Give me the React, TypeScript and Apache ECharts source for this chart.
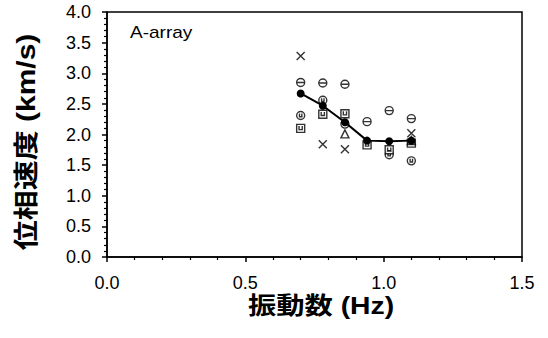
import React, { useEffect, useRef } from "react";
import * as echarts from "echarts";

const freqs = [0.7, 0.78, 0.86, 0.94, 1.02, 1.1];
const meanVel = [2.67, 2.47, 2.2, 1.9, 1.89, 1.9];
const circleTheta = [2.85, 2.84, 2.82, 2.21, 2.39, 2.26];
const circleU = [2.31, 2.56, 2.17, null, 1.67, 1.57];
const squareU = [2.1, 2.33, 2.34, 1.83, 1.75, 1.86];
const triangles = [null, null, 2.01, null, null, 1.9];
const crosses = [3.28, 1.84, 1.76, null, null, 2.02];
const xTicks = [0, 0.5, 1.0, 1.5];
const yTicks = [0, 0.5, 1, 1.5, 2, 2.5, 3, 3.5, 4];

const pairs = (ys: (number | null)[]) =>
  freqs.map((f, i) => [f, ys[i]]).filter((p) => p[1] !== null);

const SYM_CROSS = "path://M0,0L10,10M10,0L0,10";
const SYM_THETA = "path://M0,5A5,5,0,1,1,10,5A5,5,0,1,1,0,5ZM0,5L10,5";
const SYM_CU = "path://M0,5A5,5,0,1,1,10,5A5,5,0,1,1,0,5ZM3.5,2.5L3.5,6.5L6.5,6.5L6.5,2.5";
const SYM_SQU = "path://M0,0L10,0L10,10L0,10ZM3,2L3,6.5L7,6.5L7,2";
const SYM_TRI = "path://M5,0L10,9L0,9Z";

export default function App() {
  const ref = useRef<HTMLDivElement>(null);
  useEffect(() => {
    if (!ref.current) return;
    const chart = echarts.init(ref.current, undefined, { renderer: "svg" });
    const font = "'Liberation Sans', 'Noto Sans CJK JP', sans-serif";
    const open = (c: string) => ({
      color: c,
      borderColor: "#000",
      borderWidth: 1.4,
    });
    chart.setOption({
      animation: false,
      backgroundColor: "#fff",
      grid: {
        left: 107,
        top: 12,
        right: 26,
        bottom: 81,
        show: true,
        borderColor: "#000",
        borderWidth: 1.5,
        backgroundColor: "transparent",
      },
      xAxis: {
        type: "value",
        min: xTicks[0],
        max: xTicks[xTicks.length - 1],
        interval: 0.5,
        axisLine: { show: true, lineStyle: { color: "#000", width: 1.5 } },
        axisTick: { show: true, length: 5, lineStyle: { color: "#000", width: 1.5 } },
        minorTick: { show: true, splitNumber: 5, length: 3, lineStyle: { color: "#000", width: 1.2 } },
        splitLine: { show: false },
        axisLabel: {
          margin: 17,
          fontSize: 18,
          fontFamily: font,
          color: "#000",
          formatter: (v: number) => v.toFixed(1),
        },
      },
      yAxis: {
        type: "value",
        min: yTicks[0],
        max: yTicks[yTicks.length - 1],
        interval: 0.5,
        axisLine: { show: true, lineStyle: { color: "#000", width: 1.5 } },
        axisTick: { show: true, length: 5, lineStyle: { color: "#000", width: 1.5 } },
        minorTick: { show: true, splitNumber: 5, length: 3, lineStyle: { color: "#000", width: 1.2 } },
        splitLine: { show: false },
        axisLabel: {
          margin: 16,
          fontSize: 18,
          fontFamily: font,
          color: "#000",
          formatter: (v: number) => v.toFixed(1),
        },
      },
      graphic: [
        {
          type: "text",
          x: 130,
          y: 32,
          scaleX: 1.12,
          style: {
            text: "A-array",
            fontSize: 17,
            fontFamily: font,
            fill: "#000",
            align: "left",
            verticalAlign: "middle",
          },
        },
        {
          type: "text",
          x: 321,
          y: 306,
          scaleX: 1.18,
          style: {
            text: "振動数 (Hz)",
            fontSize: 24,
            fontWeight: "bold",
            fontFamily: font,
            fill: "#000",
            align: "center",
            verticalAlign: "middle",
          },
        },
        {
          type: "text",
          x: 26,
          y: 142,
          rotation: Math.PI / 2,
          scaleX: 1.2,
          style: {
            text: "位相速度 (km/s)",
            fontSize: 25,
            fontWeight: "bold",
            fontFamily: font,
            fill: "#000",
            align: "center",
            verticalAlign: "middle",
          },
        },
      ],
      series: [
        {
          type: "scatter",
          data: pairs(crosses),
          symbol: SYM_CROSS,
          symbolSize: 8,
          itemStyle: { color: "transparent", borderColor: "#000", borderWidth: 1.4 },
          z: 2,
        },
        {
          type: "scatter",
          data: pairs(circleTheta),
          symbol: SYM_THETA,
          symbolSize: 8,
          itemStyle: open("#fff"),
          z: 2,
        },
        {
          type: "scatter",
          data: pairs(circleU),
          symbol: SYM_CU,
          symbolSize: 8,
          itemStyle: open("#fff"),
          z: 2,
        },
        {
          type: "scatter",
          data: pairs(squareU),
          symbol: SYM_SQU,
          symbolSize: 8,
          itemStyle: open("#fff"),
          z: 2,
        },
        {
          type: "scatter",
          data: pairs(triangles),
          symbol: SYM_TRI,
          symbolSize: 8,
          itemStyle: open("#fff"),
          z: 2,
        },
        {
          type: "line",
          data: pairs(meanVel),
          symbol: "circle",
          symbolSize: 8,
          showSymbol: true,
          lineStyle: { color: "#000", width: 2 },
          itemStyle: { color: "#000", borderColor: "#000", borderWidth: 0 },
          z: 5,
        },
      ],
    });
    return () => chart.dispose();
  }, []);
  return <div ref={ref} style={{ width: 548, height: 338, position: "absolute", left: 0, top: 0 }} />;
}
